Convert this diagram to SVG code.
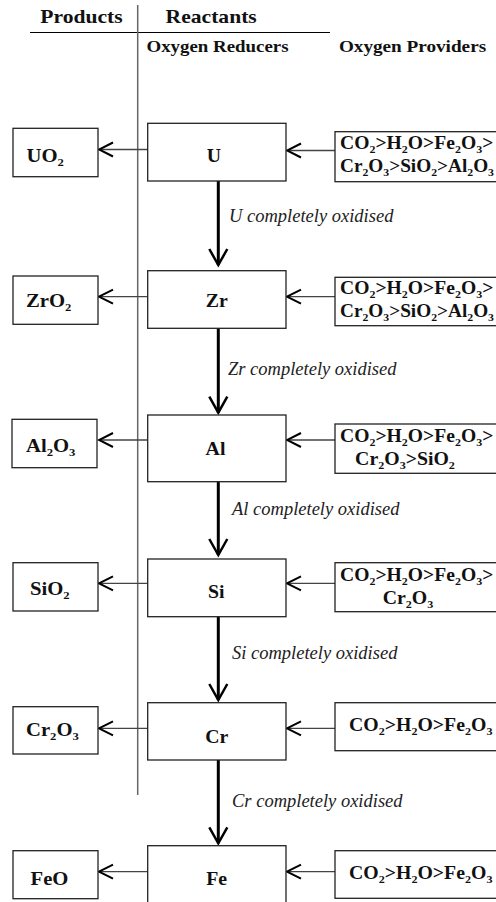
<svg xmlns="http://www.w3.org/2000/svg" width="496" height="902" viewBox="0 0 496 902">
<style>
.b{font-family:"Liberation Serif","Times New Roman",serif;font-weight:bold;font-size:18px;fill:#111}
.h{font-size:16px}
.i{font-family:"Liberation Serif","Times New Roman",serif;font-style:italic;font-size:18.5px;fill:#222}
.s{font-size:11px}
.box{fill:#fff;stroke:#222;stroke-width:1.3}
.thin{stroke:#444;stroke-width:1.3;fill:none}
.thick{stroke:#000;stroke-width:3;fill:none}
</style>
<defs>
<marker id="ah" markerUnits="userSpaceOnUse" markerWidth="18" markerHeight="18" viewBox="0 0 18 18" refX="16" refY="9" orient="auto">
<path d="M2,2 L16,9 L2,16" fill="none" stroke="#000" stroke-width="2"/>
</marker>
<marker id="av" markerUnits="userSpaceOnUse" markerWidth="22" markerHeight="22" viewBox="0 0 22 22" refX="19" refY="11" orient="auto">
<path d="M3,2 L19,11 L3,20" fill="none" stroke="#000" stroke-width="2.5"/>
</marker>
</defs>

<g id="header">
<line x1="30" y1="32.5" x2="330" y2="32.5" stroke="#000" stroke-width="1.2"/>
<line x1="137.7" y1="5" x2="137.7" y2="795" stroke="#666" stroke-width="1.5"/>
<text class="b" text-anchor="middle" transform="translate(81.5,23.3) scale(1.2,1)">Products</text>
<text class="b" text-anchor="middle" transform="translate(211.2,23.3) scale(1.2,1)">Reactants</text>
<text class="b h" text-anchor="middle" transform="translate(217.5,51.7) scale(1.18,1)">Oxygen Reducers</text>
<text class="b h" text-anchor="middle" transform="translate(412.5,51.7) scale(1.2,1)">Oxygen Providers</text>
</g>

<g id="connectors">
<line class="thin" x1="335" y1="150.5" x2="287" y2="150.5" marker-end="url(#ah)"/>
<line class="thin" x1="147.7" y1="149.5" x2="99" y2="149.5" marker-end="url(#ah)"/>
<line class="thin" x1="335" y1="296.7" x2="287" y2="296.7" marker-end="url(#ah)"/>
<line class="thin" x1="147.7" y1="296.7" x2="99" y2="296.7" marker-end="url(#ah)"/>
<line class="thin" x1="335" y1="440" x2="287" y2="440" marker-end="url(#ah)"/>
<line class="thin" x1="147.7" y1="440" x2="99" y2="440" marker-end="url(#ah)"/>
<line class="thin" x1="335" y1="583.3" x2="287" y2="583.3" marker-end="url(#ah)"/>
<line class="thin" x1="147.7" y1="583.3" x2="99" y2="583.3" marker-end="url(#ah)"/>
<line class="thin" x1="335" y1="728.3" x2="287" y2="728.3" marker-end="url(#ah)"/>
<line class="thin" x1="147.7" y1="728.3" x2="99" y2="728.3" marker-end="url(#ah)"/>
<line class="thin" x1="335" y1="871.7" x2="287" y2="871.7" marker-end="url(#ah)"/>
<line class="thin" x1="147.7" y1="871.7" x2="99" y2="871.7" marker-end="url(#ah)"/>
<line class="thick" x1="218.3" y1="181" x2="218.3" y2="265" marker-end="url(#av)"/>
<line class="thick" x1="218.3" y1="328.3" x2="218.3" y2="412.7" marker-end="url(#av)"/>
<line class="thick" x1="218.3" y1="481.7" x2="218.3" y2="555" marker-end="url(#av)"/>
<line class="thick" x1="218.3" y1="616.7" x2="218.3" y2="700" marker-end="url(#av)"/>
<line class="thick" x1="218.3" y1="760" x2="218.3" y2="843.3" marker-end="url(#av)"/>
<text class="i" x="229" y="221.7">U completely oxidised</text>
<text class="i" x="228" y="375">Zr completely oxidised</text>
<text class="i" x="232" y="515">Al completely oxidised</text>
<text class="i" x="232" y="659.3">Si completely oxidised</text>
<text class="i" x="232" y="806.7">Cr completely oxidised</text>
</g>

<g id="node-U">
<rect class="box" x="147.7" y="123.3" width="138.3" height="57.7"/>
<text class="b" text-anchor="middle" transform="translate(214,161.5) scale(1.1,1)">U</text>
</g>
<g id="node-UO2">
<rect class="box" x="13" y="128.3" width="85" height="48.4"/>
<text class="b" transform="translate(26.5,161.5) scale(1.15,1)">UO<tspan class="s" dy="4">2</tspan></text>
</g>
<g id="prov-U">
<rect class="box" x="335" y="131.7" width="170" height="50"/>
<text class="b" transform="translate(340,149) scale(1.09,1)">CO<tspan class="s" dy="4">2</tspan><tspan dy="-4">&gt;H</tspan><tspan class="s" dy="4">2</tspan><tspan dy="-4">O&gt;Fe</tspan><tspan class="s" dy="4">2</tspan><tspan dy="-4">O</tspan><tspan class="s" dy="4">3</tspan><tspan dy="-4">&gt;</tspan></text>
<text class="b" transform="translate(340,172) scale(1.07,1)">Cr<tspan class="s" dy="4">2</tspan><tspan dy="-4">O</tspan><tspan class="s" dy="4">3</tspan><tspan dy="-4">&gt;SiO</tspan><tspan class="s" dy="4">2</tspan><tspan dy="-4">&gt;Al</tspan><tspan class="s" dy="4">2</tspan><tspan dy="-4">O</tspan><tspan class="s" dy="4">3</tspan></text>
</g>

<g id="node-Zr">
<rect class="box" x="147.7" y="270.7" width="138.3" height="57.6"/>
<text class="b" text-anchor="middle" transform="translate(216.7,306.7) scale(1.1,1)">Zr</text>
</g>
<g id="node-ZrO2">
<rect class="box" x="13" y="276" width="85" height="48.3"/>
<text class="b" transform="translate(26,306.7) scale(1.15,1)">ZrO<tspan class="s" dy="4">2</tspan></text>
</g>
<g id="prov-Zr">
<rect class="box" x="335" y="277.3" width="170" height="48.4"/>
<text class="b" transform="translate(340,294) scale(1.09,1)">CO<tspan class="s" dy="4">2</tspan><tspan dy="-4">&gt;H</tspan><tspan class="s" dy="4">2</tspan><tspan dy="-4">O&gt;Fe</tspan><tspan class="s" dy="4">2</tspan><tspan dy="-4">O</tspan><tspan class="s" dy="4">3</tspan><tspan dy="-4">&gt;</tspan></text>
<text class="b" transform="translate(340,316.7) scale(1.07,1)">Cr<tspan class="s" dy="4">2</tspan><tspan dy="-4">O</tspan><tspan class="s" dy="4">3</tspan><tspan dy="-4">&gt;SiO</tspan><tspan class="s" dy="4">2</tspan><tspan dy="-4">&gt;Al</tspan><tspan class="s" dy="4">2</tspan><tspan dy="-4">O</tspan><tspan class="s" dy="4">3</tspan></text>
</g>

<g id="node-Al">
<rect class="box" x="147.7" y="415" width="138.3" height="66.7"/>
<text class="b" text-anchor="middle" transform="translate(215.5,455) scale(1.1,1)">Al</text>
</g>
<g id="node-Al2O3">
<rect class="box" x="12" y="419.3" width="85" height="48.4"/>
<text class="b" transform="translate(26,451.7) scale(1.15,1)">Al<tspan class="s" dy="4">2</tspan><tspan dy="-4">O</tspan><tspan class="s" dy="4">3</tspan></text>
</g>
<g id="prov-Al">
<rect class="box" x="335" y="424" width="170" height="49.3"/>
<text class="b" transform="translate(340,441.5) scale(1.09,1)">CO<tspan class="s" dy="4">2</tspan><tspan dy="-4">&gt;H</tspan><tspan class="s" dy="4">2</tspan><tspan dy="-4">O&gt;Fe</tspan><tspan class="s" dy="4">2</tspan><tspan dy="-4">O</tspan><tspan class="s" dy="4">3</tspan><tspan dy="-4">&gt;</tspan></text>
<text class="b" text-anchor="middle" transform="translate(405,465) scale(1.1,1)">Cr<tspan class="s" dy="4">2</tspan><tspan dy="-4">O</tspan><tspan class="s" dy="4">3</tspan><tspan dy="-4">&gt;SiO</tspan><tspan class="s" dy="4">2</tspan></text>
</g>

<g id="node-Si">
<rect class="box" x="147.7" y="559" width="138.3" height="57.7"/>
<text class="b" text-anchor="middle" transform="translate(216.3,598.3) scale(1.1,1)">Si</text>
</g>
<g id="node-SiO2">
<rect class="box" x="13" y="562.7" width="85" height="48.3"/>
<text class="b" transform="translate(30,595) scale(1.15,1)">SiO<tspan class="s" dy="4">2</tspan></text>
</g>
<g id="prov-Si">
<rect class="box" x="335" y="562.7" width="170" height="49"/>
<text class="b" transform="translate(340,581) scale(1.09,1)">CO<tspan class="s" dy="4">2</tspan><tspan dy="-4">&gt;H</tspan><tspan class="s" dy="4">2</tspan><tspan dy="-4">O&gt;Fe</tspan><tspan class="s" dy="4">2</tspan><tspan dy="-4">O</tspan><tspan class="s" dy="4">3</tspan><tspan dy="-4">&gt;</tspan></text>
<text class="b" text-anchor="middle" transform="translate(408,604) scale(1.1,1)">Cr<tspan class="s" dy="4">2</tspan><tspan dy="-4">O</tspan><tspan class="s" dy="4">3</tspan></text>
</g>

<g id="node-Cr">
<rect class="box" x="147.7" y="702.7" width="138.3" height="57.3"/>
<text class="b" text-anchor="middle" transform="translate(216.7,742.5) scale(1.1,1)">Cr</text>
</g>
<g id="node-Cr2O3">
<rect class="box" x="13" y="706.7" width="85" height="47.3"/>
<text class="b" transform="translate(26,735.5) scale(1.15,1)">Cr<tspan class="s" dy="4">2</tspan><tspan dy="-4">O</tspan><tspan class="s" dy="4">3</tspan></text>
</g>
<g id="prov-Cr">
<rect class="box" x="335" y="702.7" width="170" height="48"/>
<text class="b" transform="translate(349,730.5) scale(1.1,1)">CO<tspan class="s" dy="4">2</tspan><tspan dy="-4">&gt;H</tspan><tspan class="s" dy="4">2</tspan><tspan dy="-4">O&gt;Fe</tspan><tspan class="s" dy="4">2</tspan><tspan dy="-4">O</tspan><tspan class="s" dy="4">3</tspan></text>
</g>

<g id="node-Fe">
<rect class="box" x="147.7" y="845.7" width="138.3" height="60"/>
<text class="b" text-anchor="middle" transform="translate(216.7,885) scale(1.1,1)">Fe</text>
</g>
<g id="node-FeO">
<rect class="box" x="13" y="850.7" width="85" height="48"/>
<text class="b" transform="translate(30.5,885) scale(1.15,1)">FeO</text>
</g>
<g id="prov-Fe">
<rect class="box" x="335" y="850.7" width="170" height="47.6"/>
<text class="b" transform="translate(349,879) scale(1.1,1)">CO<tspan class="s" dy="4">2</tspan><tspan dy="-4">&gt;H</tspan><tspan class="s" dy="4">2</tspan><tspan dy="-4">O&gt;Fe</tspan><tspan class="s" dy="4">2</tspan><tspan dy="-4">O</tspan><tspan class="s" dy="4">3</tspan></text>
</g>
</svg>
